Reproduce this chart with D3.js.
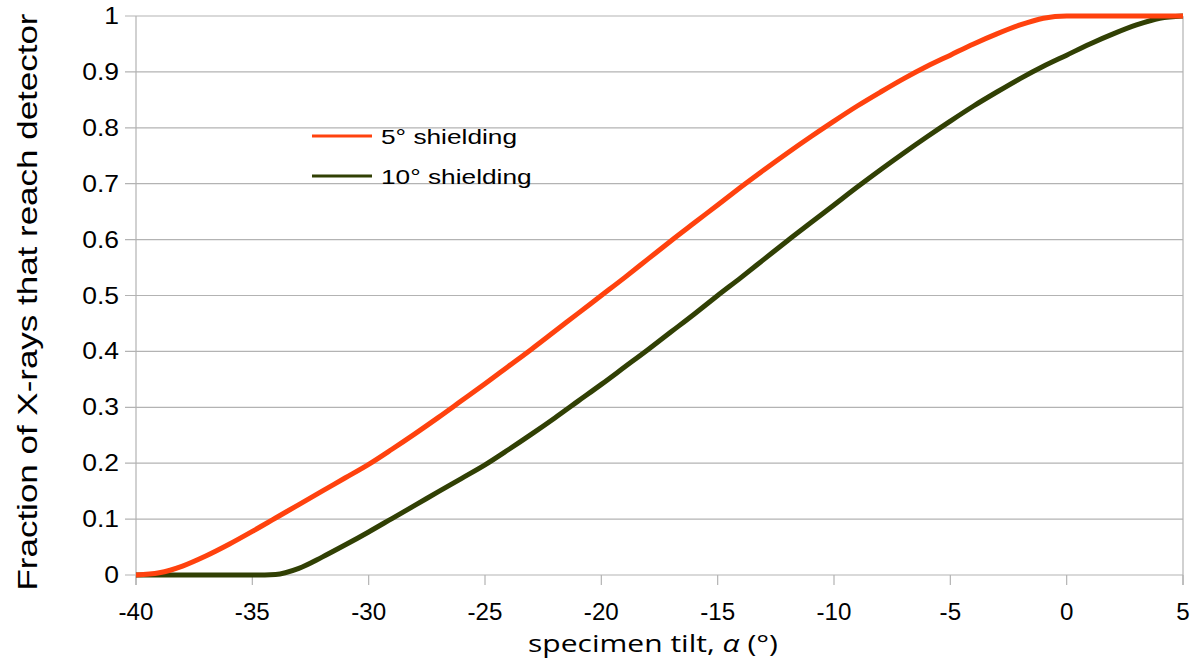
<!DOCTYPE html>
<html><head><meta charset="utf-8">
<script src="https://cdn.jsdelivr.net/npm/d3@7"></script>
<style>body{margin:0;background:#fff;} svg{display:block;}</style>
</head><body>
<svg id="c" width="1199" height="664"></svg>
<script>
const tilt = [-40,-39,-38,-37,-36,-35,-34,-33,-32,-31,-30,-29,-28,-27,-26,-25,-24,-23,-22,-21,-20,-19,-18,-17,-16,-15,-14,-13,-12,-11,-10,-9,-8,-7,-6,-5,-4,-3,-2,-1,0,1,2,3,4,5];
const shield5 = [0,0.004,0.016,0.034,0.055,0.078,0.102,0.126,0.15,0.174,0.198,0.225,0.253,0.282,0.312,0.342,0.373,0.404,0.436,0.468,0.5,0.532,0.565,0.598,0.63,0.662,0.694,0.725,0.755,0.784,0.812,0.839,0.864,0.888,0.91,0.93,0.95,0.968,0.984,0.996,1,1,1,1,1,1];
const shield10 = [0,0,0,0,0,0,0.001,0.012,0.032,0.054,0.077,0.101,0.125,0.149,0.173,0.197,0.224,0.252,0.281,0.311,0.341,0.372,0.403,0.435,0.467,0.5,0.532,0.565,0.598,0.63,0.662,0.694,0.725,0.755,0.784,0.812,0.839,0.864,0.888,0.91,0.93,0.95,0.968,0.984,0.996,1];
const seriesNames = ["5° shielding","10° shielding"];
const seriesColors = ["#ff420e","#314004"];
const xTicks = [-40,-35,-30,-25,-20,-15,-10,-5,0,5];
const yTicks = [0,0.1,0.2,0.3,0.4,0.5,0.6,0.7,0.8,0.9,1];

const svg = d3.select("#c");
const L=136, R=1183, T=16, B=575;
const x = d3.scaleLinear().domain([-40,5]).range([L,R]);
const y = d3.scaleLinear().domain([0,1]).range([B,T]);
const grid="#b3b3b3";
const font = "'Liberation Sans', Arial, sans-serif";

// stretch a text along its own direction, anchored at (ax, ay)
function stretch(sel, k){
  sel.each(function(){
    const n=this; const w=n.getComputedTextLength();
    n.setAttribute("textLength", w*k);
    n.setAttribute("lengthAdjust","spacingAndGlyphs");
  });
}

// horizontal gridlines
svg.append("g").selectAll("line").data(yTicks).join("line")
  .attr("x1",L-11).attr("x2",R).attr("y1",d=>y(d)).attr("y2",d=>y(d))
  .attr("stroke",grid).attr("stroke-width",1.2);
svg.append("line").attr("x1",L).attr("x2",L).attr("y1",T).attr("y2",B+10).attr("stroke",grid).attr("stroke-width",1.2);
svg.append("line").attr("x1",R).attr("x2",R).attr("y1",T).attr("y2",B+10).attr("stroke",grid).attr("stroke-width",1.2);
svg.append("g").selectAll("line").data(xTicks).join("line")
  .attr("x1",d=>x(d)).attr("x2",d=>x(d)).attr("y1",B).attr("y2",B+10)
  .attr("stroke",grid).attr("stroke-width",1.2);

// tick labels
const yl = svg.append("g").selectAll("text").data(yTicks).join("text")
  .attr("x",L-17).attr("y",d=>y(d)+8).attr("text-anchor","end")
  .attr("font-family",font).attr("font-size",23).attr("fill","#000")
  .text(d=>String(d));
stretch(yl,1.15);
const xl = svg.append("g").selectAll("text").data(xTicks).join("text")
  .attr("x",d=>x(d)).attr("y",620).attr("text-anchor","middle")
  .attr("font-family",font).attr("font-size",23).attr("fill","#000")
  .text(d=>d);
stretch(xl,1.05);

// axis titles
const yt = svg.append("text").attr("transform","translate(37,302) rotate(-90)")
  .attr("text-anchor","middle").attr("font-family",font).attr("font-size",28).attr("fill","#000")
  .text("Fraction of X-rays that reach detector");
yt.attr("textLength",577).attr("lengthAdjust","spacingAndGlyphs");

const xtg = svg.append("g");
const xt = xtg.append("text").attr("x",0).attr("y",0).attr("text-anchor","middle")
  .attr("font-family","'Open Sans', 'Noto Sans', sans-serif").attr("font-size",24).attr("fill","#000");
xt.append("tspan").text("specimen tilt, ");
xt.append("tspan").attr("font-style","italic").text("α");
xt.append("tspan").text(" (°)");
const bw = xt.node().getBBox().width;
xtg.attr("transform",`translate(653,652) scale(${250/bw},1)`);

// lines
const line = d3.line().x((d,i)=>x(tilt[i])).y(d=>y(d)).curve(d3.curveMonotoneX);
svg.append("path").datum(shield10).attr("d",line).attr("fill","none")
  .attr("stroke",seriesColors[1]).attr("stroke-width",5).attr("stroke-linejoin","round");
svg.append("path").datum(shield5).attr("d",line).attr("fill","none")
  .attr("stroke",seriesColors[0]).attr("stroke-width",5).attr("stroke-linejoin","round");

// legend
const lg = svg.append("g");
seriesNames.forEach((n,i)=>{
  const ly = 136 + i*40;
  lg.append("line").attr("x1",312).attr("x2",372).attr("y1",ly).attr("y2",ly)
    .attr("stroke",seriesColors[i]).attr("stroke-width",3);
  const t = lg.append("text").attr("x",381).attr("y",ly+8).attr("font-family",font)
    .attr("font-size",21).attr("fill","#000").text(n);
  stretch(t,1.25);
});
</script>
</body></html>
